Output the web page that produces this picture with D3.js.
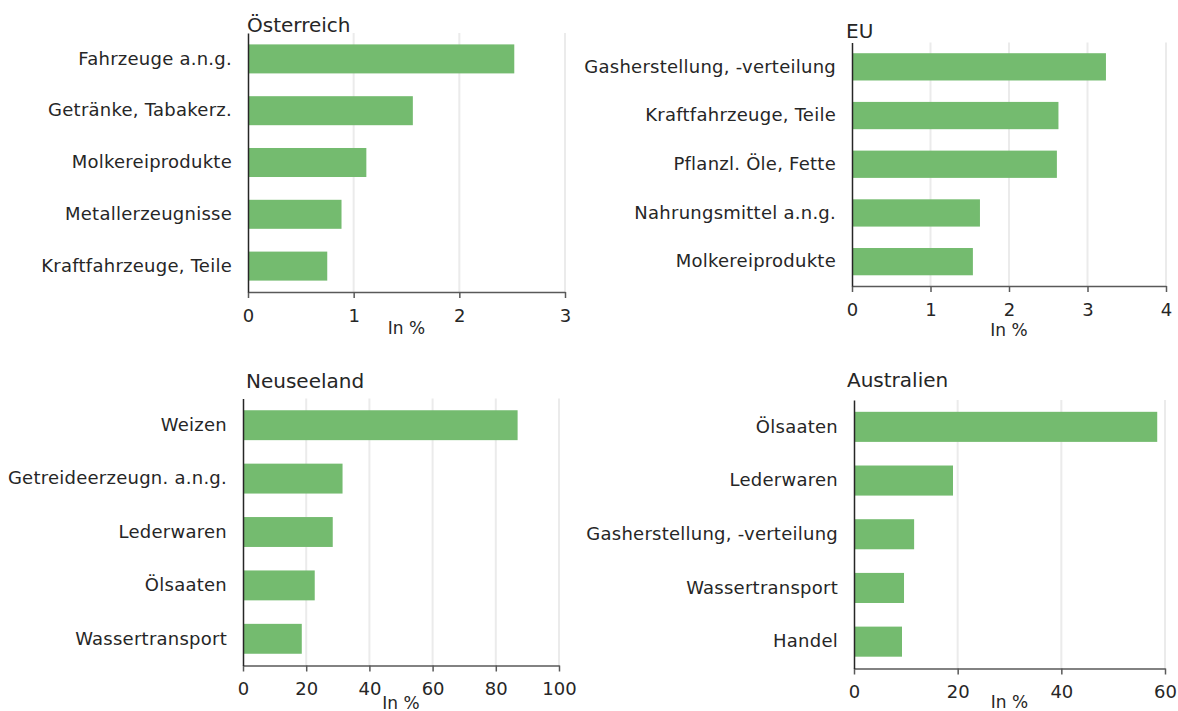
<!DOCTYPE html>
<html><head><meta charset="utf-8">
<script src="https://cdn.jsdelivr.net/npm/d3@7"></script>
<style>
body{margin:0;background:#fff;}
text{font-family:"DejaVu Sans",sans-serif;fill:#262626;}
</style></head>
<body>
<svg id="chart" width="1178" height="711"></svg>
<script>
const titles = ["Österreich", "EU", "Neuseeland", "Australien"];
const catsAT = ["Fahrzeuge a.n.g.", "Getränke, Tabakerz.", "Molkereiprodukte", "Metallerzeugnisse", "Kraftfahrzeuge, Teile"];
const valsAT = [2.52, 1.56, 1.12, 0.885, 0.75];
const ticksAT = [0, 1, 2, 3];
const catsEU = ["Gasherstellung, -verteilung", "Kraftfahrzeuge, Teile", "Pflanzl. Öle, Fette", "Nahrungsmittel a.n.g.", "Molkereiprodukte"];
const valsEU = [3.235, 2.63, 2.61, 1.63, 1.54];
const ticksEU = [0, 1, 2, 3, 4];
const catsNZ = ["Weizen", "Getreideerzeugn. a.n.g.", "Lederwaren", "Ölsaaten", "Wassertransport"];
const valsNZ = [86.9, 31.5, 28.4, 22.7, 18.6];
const ticksNZ = [0, 20, 40, 60, 80, 100];
const catsAU = ["Ölsaaten", "Lederwaren", "Gasherstellung, -verteilung", "Wassertransport", "Handel"];
const valsAU = [58.5, 19.1, 11.6, 9.65, 9.26];
const ticksAU = [0, 20, 40, 60];
const axisTitle = "In %";

const panels = [
  {title: titles[0], cats: catsAT, vals: valsAT, ticks: ticksAT, x0: 248, x1: 565, y0: 33, y1: 292, tx: 247, ty: 32, lx: 334},
  {title: titles[1], cats: catsEU, vals: valsEU, ticks: ticksEU, x0: 852, x1: 1166, y0: 42.5, y1: 286, tx: 846, ty: 38, lx: 336},
  {title: titles[2], cats: catsNZ, vals: valsNZ, ticks: ticksNZ, x0: 243, x1: 559, y0: 398.5, y1: 665.5, tx: 246, ty: 388, lx: 709},
  {title: titles[3], cats: catsAU, vals: valsAU, ticks: ticksAU, x0: 854, x1: 1165, y0: 400, y1: 668.5, tx: 847, ty: 387, lx: 708}
];

const svg = d3.select("#chart");
const barColor = "#74bb6f";

panels.forEach(p => {
  const g = svg.append("g");
  const x = d3.scaleLinear().domain([p.ticks[0], p.ticks[p.ticks.length-1]]).range([p.x0, p.x1]);
  const y = d3.scaleBand().domain(p.cats).range([p.y0, p.y1]).paddingInner(0.44).paddingOuter(0.22);

  g.selectAll(".grid").data(p.ticks.slice(1)).join("line")
    .attr("x1", d => x(d)).attr("x2", d => x(d))
    .attr("y1", p.y0).attr("y2", p.y1)
    .attr("stroke", "#ebebeb").attr("stroke-width", 2);

  g.selectAll(".bar").data(p.vals).join("rect")
    .attr("x", x(0)).attr("y", (d, i) => y(p.cats[i]))
    .attr("width", d => x(d) - x(0)).attr("height", y.bandwidth())
    .attr("fill", barColor);

  const xa = g.append("g").attr("transform", `translate(0,${p.y1})`)
    .call(d3.axisBottom(x).tickValues(p.ticks).tickFormat(d => String(d)).tickSize(6).tickSizeOuter(0).tickPadding(11));
  xa.select(".domain").attr("stroke", "#595959").attr("stroke-width", 1.5);
  xa.selectAll(".tick line").attr("stroke", "#595959").attr("stroke-width", 1.5);
  xa.selectAll(".tick text").style("font-size", "18px").attr("fill", "#262626");

  const ya = g.append("g").attr("transform", `translate(${p.x0},0)`)
    .call(d3.axisLeft(y).tickSize(0).tickPadding(16));
  ya.select(".domain").attr("stroke", "#262626").attr("stroke-width", 1.5);
  ya.selectAll(".tick text").style("font-size", "18px").style("letter-spacing", "0.25px").attr("fill", "#262626");

  g.append("text").attr("x", p.tx).attr("y", p.ty).text(p.title).style("font-size", "20px");

  g.append("text").attr("x", (p.x0 + p.x1) / 2).attr("y", p.lx)
    .attr("text-anchor", "middle").text(axisTitle).style("font-size", "17px");
});
</script>
</body></html>
